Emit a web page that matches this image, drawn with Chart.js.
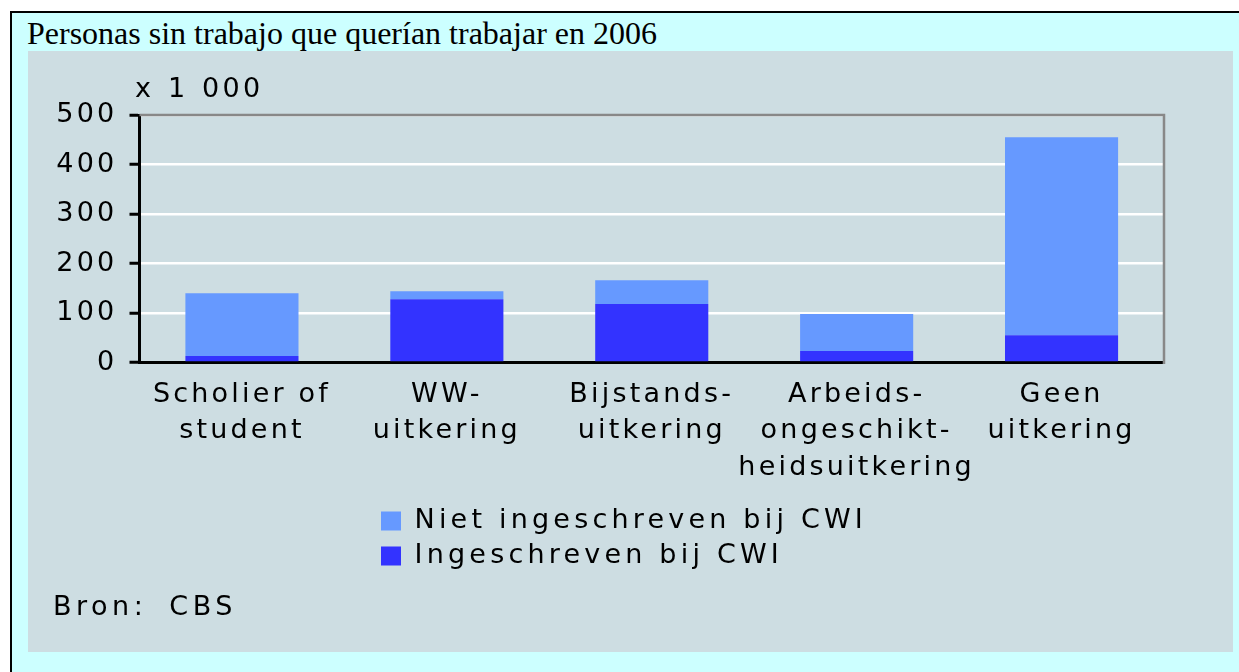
<!DOCTYPE html>
<html><head><meta charset="utf-8">
<script src="https://cdn.jsdelivr.net/npm/chart.js@4"></script>
<style>
html,body{margin:0;padding:0;background:#fff;width:1239px;height:672px;overflow:hidden;}
#frame{position:absolute;left:10px;top:11px;width:1300px;height:720px;border:2px solid #000;background:#ccffff;box-sizing:border-box;}
#title{position:absolute;left:27px;top:17px;font:32px/32px 'Liberation Serif','Times New Roman',serif;color:#000;white-space:nowrap;}
#panel{position:absolute;left:28px;top:51px;width:1205px;height:601px;background:#cddde2;}
#chart{position:absolute;left:0;top:0;}
.note{position:absolute;font:27px/27px 'DejaVu Sans',sans-serif;letter-spacing:3.2px;color:#000;white-space:nowrap;}
</style></head>
<body>
<div id="frame"></div>
<div id="title">Personas sin trabajo que querían trabajar en 2006</div>
<div id="panel">
  <canvas id="chart" width="1205" height="601" style="width:1205px;height:601px"></canvas>
  <div class="note" id="unit" style="left:107px;top:23px;word-spacing:2px">x 1 000</div>
  <div class="note" id="src" style="left:25px;top:541px;letter-spacing:4.5px;word-spacing:9px">Bron: CBS</div>
</div>
<script>
const categories = [['Scholier of','student'],['WW-','uitkering'],['Bijstands-','uitkering'],['Arbeids-','ongeschikt-','heidsuitkering'],['Geen','uitkering']];
const ingeschreven = [13, 128, 118, 23, 55];
const nietIngeschreven = [127, 16, 48, 75, 400];
const yTicks = [0, 100, 200, 300, 400, 500];
const seriesNames = ['Ingeschreven bij CWI', 'Niet ingeschreven bij CWI'];

const FONT = "'DejaVu Sans', sans-serif";

const framePlugin = {
  id: 'framePlugin',
  beforeDraw(chart) { chart.ctx.letterSpacing = '3.2px'; },
  afterLayout(chart) {
    const lg = chart.legend;
    if (lg) {
      if (!lg._wrapped) {
        const orig = lg.draw;
        lg.draw = function () {
          const c = this.ctx; const prev = c.letterSpacing;
          c.letterSpacing = '4.2px';
          orig.call(this);
          c.letterSpacing = prev;
        };
        lg._wrapped = true;
      }
      lg.left = 345; lg.right = 345 + 560; lg.width = 560;
      lg.top = 448.5; lg.bottom = 601; lg.height = 152.5;
    }
  },
  afterDatasetsDraw(chart) {
    const {ctx, chartArea: a} = chart;
    ctx.save();
    ctx.strokeStyle = '#888888';
    ctx.lineWidth = 2.5;
    ctx.beginPath();
    ctx.moveTo(a.left, a.top);
    ctx.lineTo(a.right, a.top);
    ctx.lineTo(a.right, a.bottom + 1.5);
    ctx.stroke();
    ctx.restore();
  }
};

new Chart(document.getElementById('chart'), {
  type: 'bar',
  data: {
    labels: categories,
    datasets: [
      { label: seriesNames[0], data: ingeschreven, backgroundColor: '#3333ff', borderWidth: 0 },
      { label: seriesNames[1], data: nietIngeschreven, backgroundColor: '#6699ff', borderWidth: 0 }
    ]
  },
  options: {
    responsive: false,
    animation: false,
    devicePixelRatio: 1,
    layout: { padding: { left: 0, top: 64, right: 69, bottom: 0 } },
    datasets: { bar: { categoryPercentage: 1, barPercentage: 0.552 } },
    plugins: {
      tooltip: { enabled: false },
      title: { display: false },
      legend: {
        position: 'bottom',
        align: 'start',
        reverse: true,
        maxHeight: 1,
        labels: {
          color: '#000',
          font: { family: FONT, size: 27 },
          boxWidth: 20,
          boxHeight: 19,
          padding: 8
        }
      }
    },
    scales: {
      x: {
        stacked: true,
        grid: { display: false, drawTicks: false },
        border: { display: true, color: '#000', width: 3 },
        ticks: {
          color: '#000',
          autoSkip: false,
          maxRotation: 0,
          minRotation: 0,
          padding: 14,
          font: { family: FONT, size: 27, lineHeight: '36.5px' }
        },
        afterFit(s) { s.height = 288.5; }
      },
      y: {
        stacked: true,
        min: 0,
        max: 500,
        grid: { color: '#ffffff', lineWidth: 2.5, drawTicks: true, tickLength: 10, tickColor: '#000', tickWidth: 3 },
        border: { display: true, color: '#000', width: 3 },
        ticks: {
          color: '#000',
          padding: 12,
          font: { family: FONT, size: 27 }
        },
        afterBuildTicks(s) { s.ticks = yTicks.map(v => ({ value: v })); },
        afterFit(s) { s.width = 111.5; }
      }
    }
  },
  plugins: [framePlugin]
});
</script>
</body></html>
